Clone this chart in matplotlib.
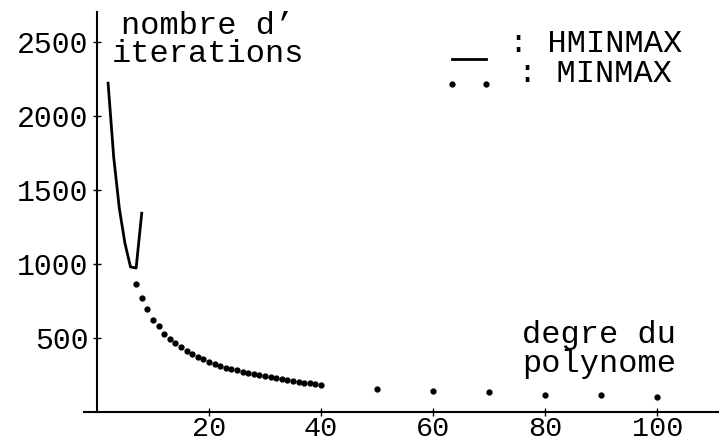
import matplotlib
matplotlib.use("Agg")
import matplotlib.pyplot as plt

# nombre d'iterations en fonction du degre du polynome
hmin_deg = [2, 3, 4, 5, 6, 7, 8]
hmin_iter = [2222, 1721, 1377, 1141, 980, 973, 1343]

min_deg = list(range(7, 41)) + [50, 60, 70, 80, 90, 100]
min_iter = [868, 767, 693, 625, 578, 530, 493, 463, 436, 412,
            392, 375, 358, 338, 325, 312, 300, 290, 281, 272,
            265, 257, 250, 243, 236, 229, 222, 216, 210, 204,
            198, 194, 189, 185,
            158, 143, 133, 117, 113, 103]

xticks = [20, 40, 60, 80, 100]
yticks = [500, 1000, 1500, 2000, 2500]

plt.rcParams['font.family'] = ['Liberation Mono', 'DejaVu Sans Mono']

fig = plt.figure(figsize=(7.19, 4.44), dpi=100)
ax = fig.add_axes([84 / 719, 32 / 444, 635 / 719, 400 / 444])

l_h, = ax.plot(hmin_deg, hmin_iter, color='black', lw=2)
l_m, = ax.plot(min_deg, min_iter, ls='none', marker='o', ms=3.5, color='black')

ax.set_xlim(-2.3, 111)
ax.set_ylim(0, 2703)

ax.spines['left'].set_position(('data', 0))
ax.spines['bottom'].set_position(('data', 0))
ax.spines['top'].set_visible(False)
ax.spines['right'].set_visible(False)
for s in ['left', 'bottom']:
    ax.spines[s].set_linewidth(1.5)

ax.set_xticks(xticks)
ax.set_yticks(yticks)
ax.tick_params(direction='inout', length=6, width=1, labelsize=20.5)
ax.tick_params(axis='x', pad=0)
ax.tick_params(axis='y', pad=3, labelsize=21.5)

# va='baseline' -> ligne du bas
ax.text(19.8, 2365, "nombre d’\niterations", fontsize=23, ha='center',
        va='baseline', multialignment='center', linespacing=0.93)
ax.text(75.9, 270, "degre du\npolynome", fontsize=23, ha='left',
        va='baseline', linespacing=0.96)
ax.text(88.9, 2230, ": HMINMAX\n: MINMAX", fontsize=23, ha='center',
        va='baseline', multialignment='center', linespacing=1.0)

# cles de la legende (textes a part)
ax.legend([l_h, l_m], ["", ""], loc='upper left',
          bbox_to_anchor=(448 / 719, 1 - 53 / 444), bbox_transform=fig.transFigure,
          frameon=False, fontsize=10, numpoints=2, handlelength=3.0,
          handletextpad=0, labelspacing=0.8, borderpad=0, borderaxespad=0)

fig.savefig("out.png", dpi=100)
